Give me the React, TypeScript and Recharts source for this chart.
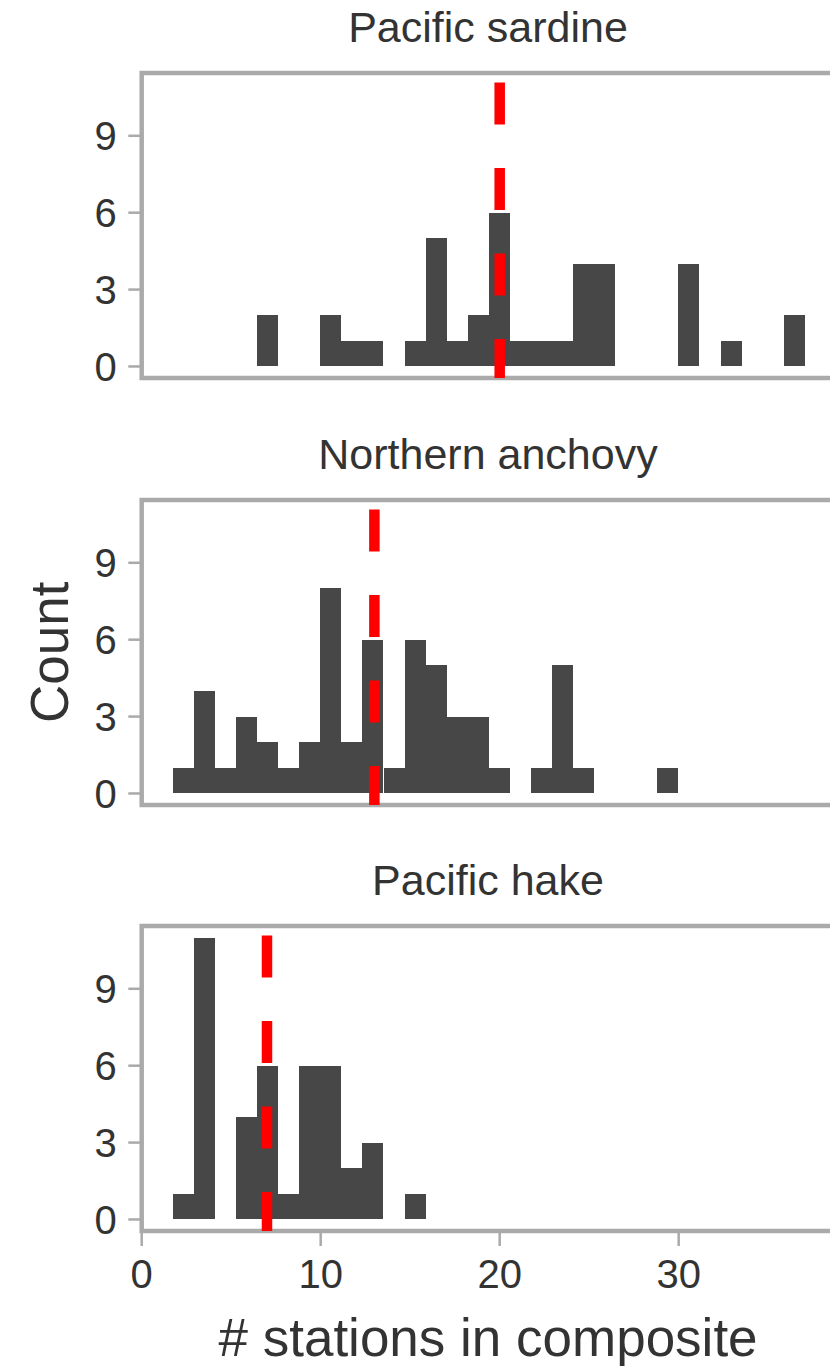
import React from 'react';
import { BarChart, Bar, XAxis, YAxis, ReferenceLine, ReferenceArea } from 'recharts';

// histogram bin centres (shared by all three panels)
const BIN_CENTERS = [
  2.329, 3.506, 4.683, 5.86, 7.037, 8.214, 9.391, 10.568, 11.745, 12.922,
  14.099, 15.276, 16.453, 17.63, 18.807, 19.984, 21.161, 22.338, 23.515, 24.692,
  25.869, 27.046, 28.223, 29.4, 30.577, 31.754, 32.931, 34.108, 35.285, 36.462,
];

const SARDINE_COUNTS = [0, 0, 0, 0, 2, 0, 0, 2, 1, 1, 0, 1, 5, 1, 2, 6, 1, 1, 1, 4, 4, 0, 0, 0, 4, 0, 1, 0, 0, 2];
const ANCHOVY_COUNTS = [1, 4, 1, 3, 2, 1, 2, 8, 2, 6, 1, 6, 5, 3, 3, 1, 0, 1, 5, 1, 0, 0, 0, 1, 0, 0, 0, 0, 0, 0];
const HAKE_COUNTS = [1, 11, 0, 4, 6, 1, 6, 6, 2, 3, 0, 1, 0, 0, 0, 0, 0, 0, 0, 0, 0, 0, 0, 0, 0, 0, 0, 0, 0, 0];

const SPECIES = ['Pacific sardine', 'Northern anchovy', 'Pacific hake'];
const MEDIANS = [20, 13, 7];

const X_TICKS = [0, 10, 20, 30];
const Y_TICKS = [0, 3, 6, 9];
const X_DOMAIN: [number, number] = [0, 38.7];
const Y_DOMAIN: [number, number] = [-0.45, 11.45];

const FONT = '"Liberation Sans", Arial, Helvetica, sans-serif';
const TEXT = '#333333';
const SPINE = '#aaaaaa';
const BAR = '#474747';

const PLOT_LEFT = 141.7;
const PLOT_W = 692.7;
const PLOT_H = 305;
const CHART_W = 900;
const TOP_PAD = 20;
const BOTTOM_PAD = 14;

interface PanelProps {
  counts: number[];
  median: number;
  plotTop: number;
  showX: boolean;
}

const Panel: React.FC<PanelProps> = ({ counts, median, plotTop, showX }) => {
  const rows = BIN_CENTERS.map((bin, i) => ({ bin, count: counts[i] }));
  const axisH = showX ? 125 : 0;
  return (
    <div style={{ position: 'absolute', left: 0, top: plotTop - TOP_PAD }}>
      <BarChart
        width={CHART_W}
        height={TOP_PAD + PLOT_H + axisH + BOTTOM_PAD}
        data={rows}
        margin={{ top: TOP_PAD, right: CHART_W - PLOT_LEFT - PLOT_W, left: 0, bottom: BOTTOM_PAD }}
        barCategoryGap={0}
        barGap={0}
      >
        <XAxis
          type="number"
          dataKey="bin"
          domain={X_DOMAIN}
          ticks={X_TICKS}
          interval={0}
          allowDataOverflow
          hide={!showX}
          height={125}
          axisLine={false}
          tickLine={{ stroke: SPINE, strokeWidth: 2.5 }}
          tickSize={15}
          tickMargin={14}
          tick={{ fill: TEXT, fontSize: 40, fontFamily: FONT }}
          label={{
            value: '# stations in composite',
            position: 'insideBottom',
            offset: 0,
            fill: TEXT,
            fontSize: 53,
            fontFamily: FONT,
          }}
        />
        <YAxis
          type="number"
          domain={Y_DOMAIN}
          ticks={Y_TICKS}
          interval={0}
          allowDataOverflow
          width={PLOT_LEFT}
          axisLine={false}
          tickLine={{ stroke: SPINE, strokeWidth: 2.5 }}
          tickSize={13.4}
          tickMargin={11.6}
          tick={{ fill: TEXT, fontSize: 40, fontFamily: FONT }}
        />
        <Bar dataKey="count" fill={BAR} isAnimationActive={false} shapeRendering="crispEdges" />
        <ReferenceArea
          x1={X_DOMAIN[0]}
          x2={X_DOMAIN[1]}
          y1={Y_DOMAIN[0]}
          y2={Y_DOMAIN[1]}
          fill="none"
          stroke={SPINE}
          strokeWidth={4.5}
          ifOverflow="visible"
        />
        <ReferenceLine
          x={median}
          stroke="#ff0000"
          strokeWidth={10.5}
          strokeDasharray="42 43.5"
          strokeDashoffset={3}
        />
      </BarChart>
    </div>
  );
};

const PLOT_TOPS = [73.2, 499.8, 925.8];
const ALL_COUNTS = [SARDINE_COUNTS, ANCHOVY_COUNTS, HAKE_COUNTS];

export default function App() {
  return (
    <div
      style={{
        position: 'fixed',
        left: 0,
        top: 0,
        width: 830,
        height: 1366,
        overflow: 'hidden',
        background: '#ffffff',
      }}
    >
      {SPECIES.map((name, i) => (
        <Panel
          key={name}
          counts={ALL_COUNTS[i]}
          median={MEDIANS[i]}
          plotTop={PLOT_TOPS[i]}
          showX={i === SPECIES.length - 1}
        />
      ))}
      {/* facet titles and the shared y label */}
      <svg
        width={830}
        height={1366}
        style={{ position: 'absolute', left: 0, top: 0, pointerEvents: 'none' }}
      >
        {SPECIES.map((name, i) => (
          <text
            key={name}
            x={488}
            y={PLOT_TOPS[i] - 31}
            textAnchor="middle"
            fontSize={43}
            fontFamily={FONT}
            fill={TEXT}
          >
            {name}
          </text>
        ))}
        <text
          transform={`translate(68, ${PLOT_TOPS[1] + PLOT_H / 2}) rotate(-90)`}
          textAnchor="middle"
          fontSize={53}
          fontFamily={FONT}
          fill={TEXT}
        >
          Count
        </text>
      </svg>
    </div>
  );
}
